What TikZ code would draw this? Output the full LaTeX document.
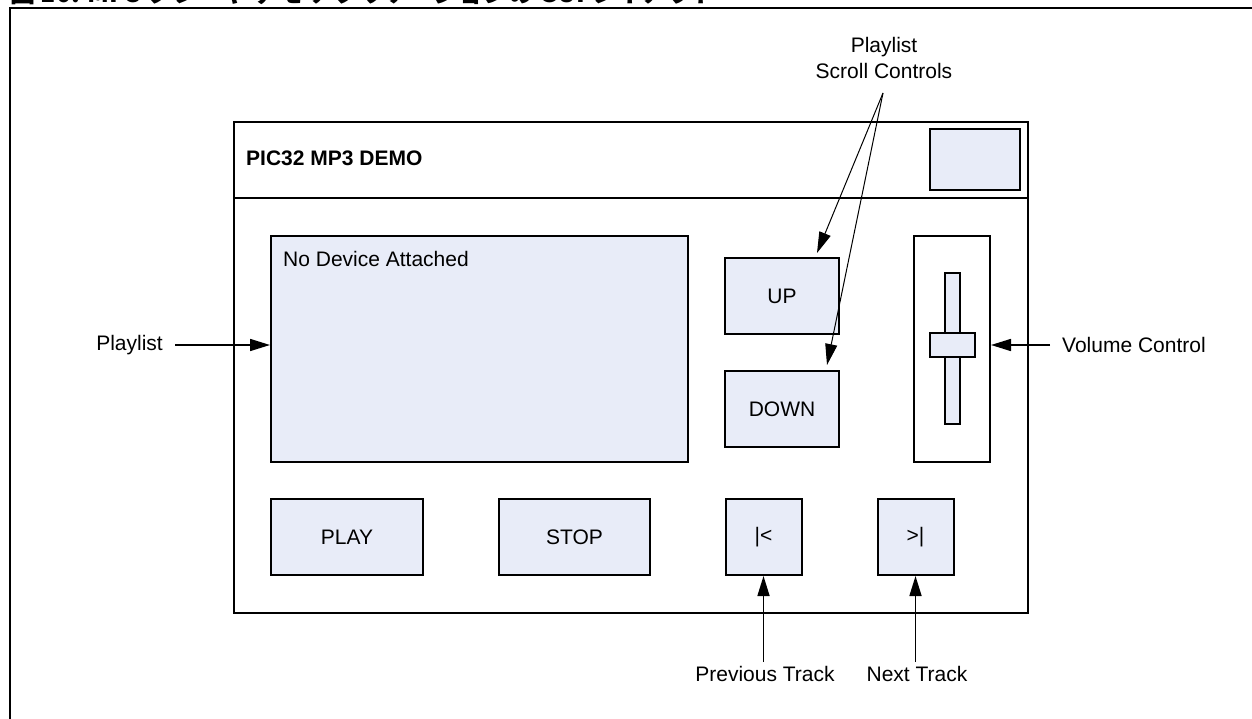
\documentclass[tikz,border=0pt]{standalone}
\usepackage{fontspec}
\setmainfont{Liberation Sans}
\newfontfamily\jpfont{Noto Sans CJK JP}
\usetikzlibrary{arrows.meta,calc}
\definecolor{btnfill}{RGB}{232,236,248}
\tikzset{
  box/.style={draw=black, line width=2pt, fill=btnfill, inner sep=0pt, anchor=center},
  wbox/.style={draw=black, line width=2pt, fill=white, inner sep=0pt, anchor=center},
  lbl/.style={inner sep=0pt, font=\fontsize{21}{26}\selectfont},
  arr/.style={line width=1.6pt, -{Triangle[length=20pt,width=12pt]}},
  thinarr/.style={line width=1pt, -{Triangle[length=21pt,width=12pt]}}
}
\begin{document}
\begin{tikzpicture}[x=1pt,y=-1pt]
\useasboundingbox (0,0) rectangle (1252,719);
% cut-off figure title
\begin{scope}
\clip (0,0) rectangle (1252,6.5);
\node[inner sep=0pt, anchor=base west, font=\jpfont\bfseries\fontsize{25}{30}\selectfont] (ttl) at (10,3) {図 10: MP3 プレーヤ デモ アプリケーションの GUI レイアウト};
\end{scope}
% outer frame
\coordinate (ftl) at (10,8);
\coordinate (ftr) at (1252,8);
\coordinate (fbl) at (10,719);
\draw[line width=2.5pt] (ftr) -- (ftl) -- (fbl);
% main window
\node[wbox, minimum width=794pt, minimum height=491pt] (win) at (631,367.5) {};
\coordinate (hdr) at (0,198);
\draw[line width=2pt] (win.west |- hdr) -- (win.east |- hdr);
\node[inner sep=0pt, anchor=base west, font=\bfseries\fontsize{21}{26}\selectfont] (apptitle) at (246,166) {PIC32 MP3 DEMO};
\node[box, minimum width=90pt, minimum height=61pt] (corner) at (975,159.5) {};
% playlist area
\node[box, minimum width=417pt, minimum height=226pt] (plist) at (479.5,349) {};
\node[lbl, anchor=base west] (nodev) at (283,266) {No Device Attached};
% scroll buttons
\node[box, minimum width=114pt, minimum height=76pt, lbl] (up) at (782,296) {UP};
\node[box, minimum width=114pt, minimum height=76pt, lbl] (down) at (782,409) {DOWN};
% volume control
\node[wbox, minimum width=76pt, minimum height=226pt] (vol) at (952,349) {};
\node[box, minimum width=15pt, minimum height=151pt] (track) at (952.5,348.5) {};
\node[box, minimum width=45pt, minimum height=24pt] (knob) at (952.5,345) {};
% bottom buttons
\node[box, minimum width=152pt, minimum height=76pt, lbl] (play) at (347,537) {PLAY};
\node[box, minimum width=151pt, minimum height=76pt, lbl] (stop) at (574.5,537) {STOP};
\node[box, minimum width=76pt, minimum height=76pt, lbl] (prevb) at (763.5,537) {|<};
\node[box, minimum width=76pt, minimum height=76pt, lbl] (nextb) at (915.5,537) {>|};
% callout labels
\node[lbl, anchor=east] (lplaylist) at (163,345) {Playlist};
\node[lbl, anchor=west] (lvol) at (1062,345) {Volume Control};
\node[lbl, align=center, anchor=base] (lscroll) at (884,79) {Playlist\\Scroll Controls};
\node[lbl, anchor=north] (lprev) at (765,666) {Previous Track};
\node[lbl, anchor=north] (lnext) at (917,666) {Next Track};
\coordinate (apex) at (883,93);
% connectors
\draw[arr, shorten <=12pt] (lplaylist.east) -- (lplaylist.east -| plist.west);
\draw[arr, shorten <=12pt] (lvol.west) -- (lvol.west -| vol.east);
\draw[thinarr] (apex) -- ($(up.north)+(35,-4)$);
\draw[thinarr] (apex) -- ($(down.north)+(45,-5)$);
\draw[arr, shorten <=4pt] (prevb.south |- lprev.north) -- (prevb.south);
\draw[arr, shorten <=4pt] (nextb.south |- lnext.north) -- (nextb.south);
\end{tikzpicture}
\end{document}
